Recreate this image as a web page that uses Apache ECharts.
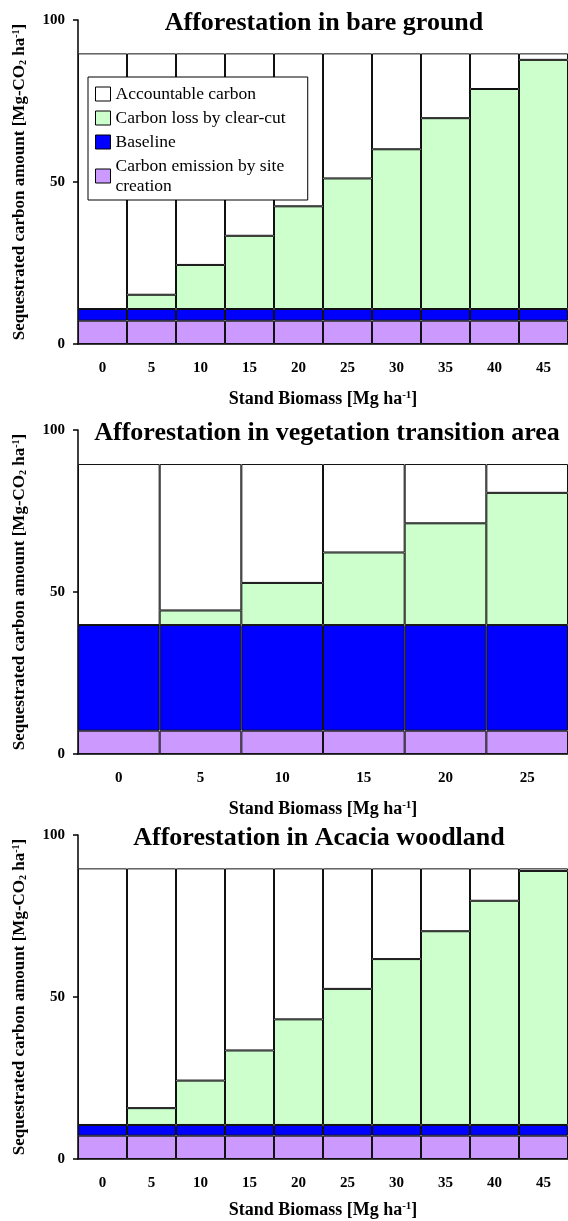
<!DOCTYPE html>
<html>
<head>
<meta charset="utf-8">
<script src="https://cdn.jsdelivr.net/npm/echarts@6/dist/echarts.min.js"></script>
<style>
  html, body { margin: 0; padding: 0; background: #fff; }
  #chart { width: 568px; height: 1221px; }
</style>
</head>
<body>
<div id="chart"></div>
<script>
// categories (stand biomass, Mg/ha)
const cats10 = ['0', '5', '10', '15', '20', '25', '30', '35', '40', '45'];
const cats6 = ['0', '5', '10', '15', '20', '25'];

// panel 1: bare ground
const emission1 = [7.2, 7.2, 7.2, 7.2, 7.2, 7.2, 7.2, 7.2, 7.2, 7.2];
const baseline1 = [3.6, 3.6, 3.6, 3.6, 3.6, 3.6, 3.6, 3.6, 3.6, 3.6];
const loss1 = [0, 4.4, 13.6, 22.6, 31.7, 40.3, 49.3, 58.9, 67.9, 76.9];
const account1 = [78.9, 74.5, 65.3, 56.3, 47.2, 38.6, 29.6, 20.0, 11.0, 2.0];

// panel 2: vegetation transition area
const emission2 = [7.2, 7.2, 7.2, 7.2, 7.2, 7.2];
const baseline2 = [32.6, 32.6, 32.6, 32.6, 32.6, 32.6];
const loss2 = [0, 4.5, 13.0, 22.4, 31.4, 40.8];
const account2 = [49.7, 45.2, 36.7, 27.3, 18.3, 8.9];

// panel 3: Acacia woodland
const emission3 = [7.2, 7.2, 7.2, 7.2, 7.2, 7.2, 7.2, 7.2, 7.2, 7.2];
const baseline3 = [3.3, 3.3, 3.3, 3.3, 3.3, 3.3, 3.3, 3.3, 3.3, 3.3];
const loss3 = [0, 5.2, 13.7, 23.0, 32.6, 42.0, 51.2, 59.8, 69.2, 78.4];
const account3 = [79.2, 74.0, 65.5, 56.2, 46.6, 37.2, 28.0, 19.4, 10.0, 0.8];

const yTicks = [0, 50, 100];

const titles = [
    'Afforestation in bare ground',
    'Afforestation in vegetation transition area',
    'Afforestation in Acacia woodland'
];

const FONT = '"Liberation Serif", "Times New Roman", serif';
const colors = {
    account: '#ffffff',
    loss: '#ccffcc',
    baseline: '#0000ff',
    emission: '#cc99ff'
};
const names = {
    account: 'Accountable carbon',
    loss: 'Carbon loss by clear-cut',
    baseline: 'Baseline',
    emission: 'Carbon emission by site creation'
};

const gridTops = [20, 430, 835];
const titleCenters = [319, 322, 314];
const xNameGaps = [46, 46, 42];
const panels = [
    { cats: cats10, emission: emission1, baseline: baseline1, loss: loss1, account: account1 },
    { cats: cats6, emission: emission2, baseline: baseline2, loss: loss2, account: account2 },
    { cats: cats10, emission: emission3, baseline: baseline3, loss: loss3, account: account3 }
];

const chart = echarts.init(document.getElementById('chart'));

const grid = [], xAxis = [], yAxis = [], title = [], series = [];

panels.forEach((p, i) => {
    grid.push({ left: 78, right: 0, top: gridTops[i], height: 324, containLabel: false, outerBoundsMode: 'none' });

    title.push({
        text: titles[i],
        left: titleCenters[i],
        top: gridTops[i] - 15,
        textAlign: 'center',
        textStyle: { fontFamily: FONT, fontWeight: 'bold', fontSize: 26, color: '#000' }
    });

    xAxis.push({
        type: 'category',
        gridIndex: i,
        data: p.cats,
        axisLine: { lineStyle: { color: '#000', width: 1.5 } },
        axisTick: { show: false },
        axisLabel: { color: '#000', fontFamily: FONT, fontWeight: 'bold', fontSize: 15, margin: 17 },
        name: 'Stand Biomass [Mg ha{sup|-1}]',
        nameLocation: 'middle',
        nameGap: xNameGaps[i],
        nameTextStyle: {
            color: '#000', fontFamily: FONT, fontWeight: 'bold', fontSize: 18,
            rich: {
                sup: { fontFamily: FONT, fontWeight: 'bold', fontSize: 11, verticalAlign: 'top', lineHeight: 16, color: '#000' }
            }
        }
    });

    yAxis.push({
        type: 'value',
        gridIndex: i,
        min: yTicks[0],
        max: yTicks[2],
        interval: yTicks[1] - yTicks[0],
        axisLine: { show: true, lineStyle: { color: '#000', width: 1.5 } },
        axisTick: { show: true, length: 5, lineStyle: { color: '#000', width: 1.5 } },
        splitLine: { show: false },
        axisLabel: { color: '#000', fontFamily: FONT, fontWeight: 'bold', fontSize: 15, margin: 13 },
        name: 'Sequestrated carbon amount [Mg-CO{sub|2} ha{sup|-1}]',
        nameLocation: 'middle',
        nameRotate: 90,
        nameGap: 50,
        nameTextStyle: {
            color: '#000', fontFamily: FONT, fontWeight: 'bold', fontSize: 17,
            rich: {
                sub: { fontFamily: FONT, fontWeight: 'bold', fontSize: 10, verticalAlign: 'bottom', lineHeight: 15, color: '#000' },
                sup: { fontFamily: FONT, fontWeight: 'bold', fontSize: 10, verticalAlign: 'top', lineHeight: 15, color: '#000' }
            }
        }
    });

    ['emission', 'baseline', 'loss', 'account'].forEach(key => {
        series.push({
            name: names[key],
            type: 'bar',
            stack: 'panel' + i,
            xAxisIndex: i,
            yAxisIndex: i,
            barCategoryGap: '0%',
            data: p[key],
            itemStyle: { color: colors[key], borderColor: '#111', borderWidth: 1 },
            emphasis: { disabled: true },
            silent: true
        });
    });
});

chart.setOption({
    animation: false,
    title: title,
    grid: grid,
    xAxis: xAxis,
    yAxis: yAxis,
    legend: {
        data: [names.account, names.loss, names.baseline, names.emission],
        icon: 'rect',
        orient: 'vertical',
        left: 88,
        top: 77,
        padding: [7, 22, 4, 7],
        itemWidth: 15,
        itemHeight: 14,
        itemGap: 4,
        backgroundColor: '#fff',
        borderColor: '#000',
        borderWidth: 1,
        itemStyle: { borderColor: '#000', borderWidth: 1 },
        textStyle: { fontFamily: FONT, fontSize: 17.5, lineHeight: 20, color: '#000' },
        formatter: name => name === names.emission ? 'Carbon emission by site\ncreation' : name
    },
    series: series
});
</script>
</body>
</html>
